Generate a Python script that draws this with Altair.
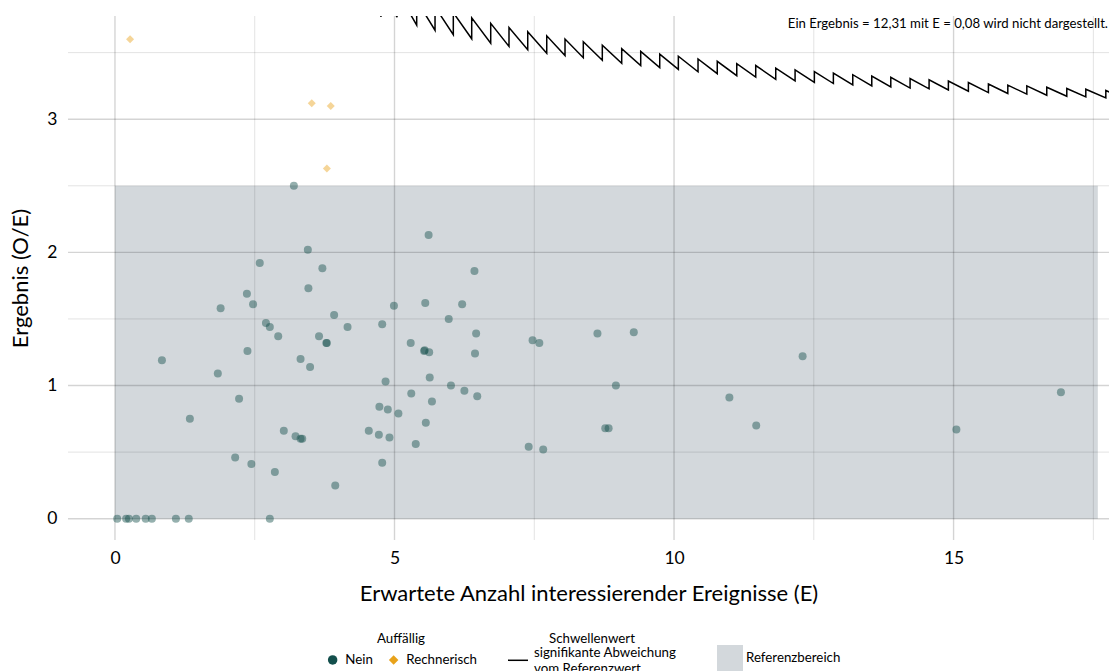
import altair as alt
import pandas as pd

# ---------------- data ----------------
nein_E = [3.20, 5.61, 3.45, 2.59, 3.71, 6.43, 3.46, 2.36, 1.89, 2.47, 4.99, 5.55, 6.21, 5.97,
          3.92, 4.78, 2.70, 2.77, 4.16, 2.92, 3.65, 6.46, 3.78, 3.79, 5.29, 5.53, 5.54, 5.62,
          6.44, 2.37, 0.84, 3.32, 3.49, 1.84, 5.63, 4.84, 6.01, 5.30, 6.25, 6.48, 2.22, 5.67,
          4.73, 4.88, 5.07, 1.34, 5.56, 3.02, 4.54, 3.23, 3.32, 3.35, 4.72, 4.91, 5.38, 2.15,
          2.44, 4.78, 2.86, 3.94,
          0.04, 0.20, 0.25, 0.38, 0.55, 0.66, 1.09, 1.32, 2.77,
          7.47, 7.59, 8.63, 9.28, 8.96, 8.77, 8.83, 7.40, 7.66, 12.30, 10.99, 11.47, 15.05, 16.92]
nein_OE = [2.50, 2.13, 2.02, 1.92, 1.88, 1.86, 1.73, 1.69, 1.58, 1.61, 1.60, 1.62, 1.61, 1.50,
           1.53, 1.46, 1.47, 1.44, 1.44, 1.37, 1.37, 1.39, 1.32, 1.32, 1.32, 1.26, 1.265, 1.25,
           1.24, 1.26, 1.19, 1.20, 1.14, 1.09, 1.06, 1.03, 1.00, 0.94, 0.96, 0.92, 0.90, 0.88,
           0.84, 0.82, 0.79, 0.75, 0.72, 0.66, 0.66, 0.62, 0.60, 0.60, 0.63, 0.61, 0.56, 0.46,
           0.41, 0.42, 0.35, 0.25,
           0, 0, 0, 0, 0, 0, 0, 0, 0,
           1.34, 1.32, 1.39, 1.40, 1.00, 0.68, 0.68, 0.54, 0.52, 1.22, 0.91, 0.70, 0.67, 0.95]
rech_E = [0.27, 3.52, 3.86, 3.79]
rech_OE = [3.60, 3.12, 3.10, 2.63]

# threshold line: positions of the jumps and values just before / after each jump
thr_E = [4.43, 4.76, 5.045, 5.397, 5.725, 6.052, 6.381, 6.721, 7.048, 7.383, 7.723, 8.050,
         8.377, 8.717, 9.064, 9.404, 9.744, 10.077, 10.429, 10.773, 11.122, 11.461, 11.819,
         12.165, 12.510, 12.850, 13.197, 13.537, 13.877, 14.222, 14.562, 14.907, 15.265,
         15.623, 15.970, 16.310, 16.667, 17.025, 17.365, 17.723]
thr_low = [3.837, 3.770, 3.766, 3.706, 3.668, 3.635, 3.604, 3.571, 3.547, 3.522, 3.496, 3.478,
           3.462, 3.442, 3.420, 3.403, 3.387, 3.374, 3.356, 3.342, 3.327, 3.316, 3.300, 3.288,
           3.277, 3.268, 3.258, 3.250, 3.243, 3.234, 3.228, 3.220, 3.210, 3.200, 3.193, 3.188,
           3.180, 3.172, 3.167, 3.160]
thr_high = [4.063, 3.992, 3.964, 3.891, 3.843, 3.800, 3.761, 3.720, 3.689, 3.657, 3.626, 3.602,
            3.581, 3.556, 3.530, 3.509, 3.489, 3.473, 3.452, 3.435, 3.417, 3.403, 3.384, 3.370,
            3.357, 3.346, 3.334, 3.324, 3.315, 3.305, 3.296, 3.287, 3.275, 3.264, 3.256, 3.250,
            3.240, 3.231, 3.225, 3.216]
thr_end_E = [17.80]
thr_end_OE = [3.202]

ref_x = [0, 17.58]
ref_y = [0, 2.5]

x_major = [0, 5, 10, 15]
x_minor = [2.5, 7.5, 12.5, 17.5]
y_major = [0, 1, 2, 3]
y_minor = [0.5, 1.5, 2.5, 3.5]

X_DOMAIN = [-0.84, 17.78]
Y_DOMAIN = [-0.16, 3.775]

note = "Ein Ergebnis = 12,31 mit E = 0,08 wird nicht dargestellt."
thr_label = "signifikante Abweichung|vom Referenzwert"

# ---------------- tables ----------------
pts = pd.DataFrame({
    "E": nein_E + rech_E,
    "OE": nein_OE + rech_OE,
    "Auffällig": ["Nein"] * len(nein_E) + ["Rechnerisch"] * len(rech_E),
})

line_rows = []
for e, lo, hi in zip(thr_E, thr_low, thr_high):
    line_rows.append((e, lo))
    line_rows.append((e, hi))
for e, v in zip(thr_end_E, thr_end_OE):
    line_rows.append((e, v))
thr = pd.DataFrame(line_rows, columns=["E", "OE"])
thr["ord"] = range(len(thr))
thr["serie"] = thr_label

ref = pd.DataFrame({"x": [ref_x[0]], "x2": [ref_x[1]], "y": [ref_y[0]], "y2": [ref_y[1]],
                    "lbl": ["Referenzbereich"]})

FONT = "Lato"
LEG_FS = 13.3
x_scale = alt.Scale(domain=X_DOMAIN, nice=False, zero=False)
y_scale = alt.Scale(domain=Y_DOMAIN, nice=False, zero=False)
X_TITLE = "Erwartete Anzahl interessierender Ereignisse (E)"
Y_TITLE = "Ergebnis (O/E)"
x_axis = alt.Axis(values=x_major, grid=False, ticks=False, domain=False, labelFontSize=17.5,
                  labelPadding=9, titleFontSize=22, titlePadding=17, titleFontWeight="normal",
                  labelColor="black", titleColor="black", labelFont=FONT, titleFont=FONT)
y_axis = alt.Axis(values=y_major, grid=False, ticks=False, domain=False, labelFontSize=17.5,
                  labelPadding=11, titleFontSize=22, titlePadding=14, titleFontWeight="normal",
                  labelColor="black", titleColor="black", labelFont=FONT, titleFont=FONT)


def X(field):
    return alt.X(field, type="quantitative", scale=x_scale, axis=x_axis, title=X_TITLE)


def Y(field):
    return alt.Y(field, type="quantitative", scale=y_scale, axis=y_axis, title=Y_TITLE)


leg_ref = alt.Legend(title=None, orient="none", legendX=649, legendY=629, symbolType="square",
                     symbolSize=676, symbolStrokeWidth=0, labelOffset=3, labelFontSize=LEG_FS,
                     labelFont=FONT, labelColor="black", padding=0)
leg_auff = alt.Legend(title="Auffällig", orient="none", legendX=258, legendY=616,
                      direction="horizontal", titleAnchor="middle", titleFontSize=LEG_FS,
                      titleFontWeight="normal", titleFont=FONT, titleColor="black",
                      labelFontSize=LEG_FS, labelFont=FONT, labelColor="black", symbolSize=90,
                      symbolOpacity=1, symbolStrokeWidth=0, columnPadding=14, labelOffset=6,
                      titlePadding=8, padding=0)
leg_thr = alt.Legend(title="Schwellenwert", orient="none", legendX=439, legendY=616,
                     direction="horizontal", titleAnchor="middle", titleFontSize=LEG_FS,
                     titleFontWeight="normal", titleFont=FONT, titleColor="black",
                     labelFontSize=LEG_FS, labelFont=FONT, labelColor="black",
                     labelExpr="split(datum.label, '|')", labelLimit=300, labelBaseline="bottom",
                     symbolType="stroke", symbolStrokeWidth=1.5, symbolSize=400,
                     symbolStrokeColor="black", labelOffset=5, titlePadding=4, padding=0)

rect = alt.Chart(ref).mark_rect(opacity=1).encode(
    x=X("x"), x2="x2", y=Y("y"), y2="y2",
    fill=alt.Fill("lbl:N", scale=alt.Scale(domain=["Referenzbereich"], range=["#d3d8dc"]),
                  legend=leg_ref),
)

gx_minor = alt.Chart(pd.DataFrame({"v": x_minor})).mark_rule(color="black", opacity=0.13,
                                                             strokeWidth=0.9).encode(x=X("v"))
gy_minor = alt.Chart(pd.DataFrame({"v": y_minor})).mark_rule(color="black", opacity=0.13,
                                                             strokeWidth=0.9).encode(y=Y("v"))
gx_major = alt.Chart(pd.DataFrame({"v": x_major})).mark_rule(color="black", opacity=0.17,
                                                             strokeWidth=1.4).encode(x=X("v"))
gy_major = alt.Chart(pd.DataFrame({"v": y_major})).mark_rule(color="black", opacity=0.17,
                                                             strokeWidth=1.4).encode(y=Y("v"))

points = alt.Chart(pts).mark_point(filled=True, opacity=0.45, size=64, strokeWidth=0).encode(
    x=X("E"), y=Y("OE"),
    color=alt.Color("Auffällig:N", scale=alt.Scale(domain=["Nein", "Rechnerisch"],
                                                    range=["#134f4c", "#e8a21a"]),
                    legend=leg_auff),
    shape=alt.Shape("Auffällig:N", scale=alt.Scale(domain=["Nein", "Rechnerisch"],
                                                    range=["circle", "diamond"]),
                    legend=leg_auff),
)

line = alt.Chart(thr).mark_line(clip=True, strokeWidth=1.5).encode(
    x=X("E"), y=Y("OE"), order="ord:Q",
    stroke=alt.Stroke("serie:N", scale=alt.Scale(domain=[thr_label], range=["black"]),
                      legend=leg_thr),
)

text = alt.Chart(pd.DataFrame({"note": [note]})).mark_text(
    align="right", baseline="middle", fontSize=13.2, font=FONT, color="black"
).encode(x=alt.value(1040), y=alt.value(8), text="note:N")

chart = alt.layer(rect, gx_minor, gy_minor, gx_major, gy_major, points, line, text).properties(
    width=1041, height=524,
    autosize=alt.AutoSizeParams(type="none"),
    padding={"left": 68, "top": 16, "right": 0, "bottom": 131},
).configure(font=FONT).configure_view(stroke=None)

chart.save("out.html", embed_options={"renderer": "svg", "actions": False})
